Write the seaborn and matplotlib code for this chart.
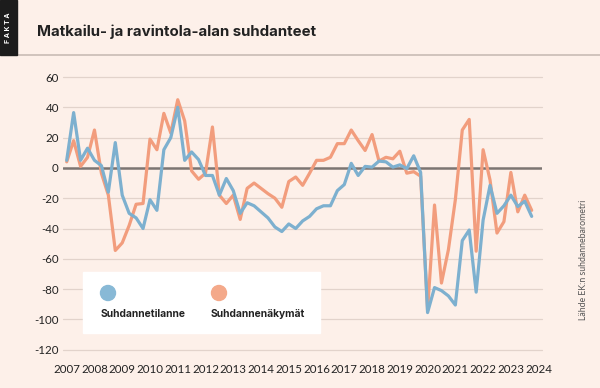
import matplotlib
matplotlib.use("Agg")
import matplotlib.pyplot as plt
import matplotlib.patches as mpatches
import numpy as np
import pandas as pd
import seaborn as sns

# ---- data (quarterly, 2007 Q1 .. 2023 Q4) ----
start_year = 2007
suhdannetilanne = [
    5, 36.5, 5, 13, 5, 1.5, -16, 16.7,
    -18, -30, -33, -40, -21, -28, 12, 20,
    40, 5, 10.5, 5.5, -5, -5, -18, -7,
    -15, -30, -23, -25, -29, -33, -39, -42,
    -37, -40, -35, -32, -27, -25, -25, -15,
    -11, 3, -5, 1, 0.5, 4.5, 4, 0.5,
    2, -0.5, 8, -3, -95.5, -79, -81, -84.5,
    -90.5, -48, -41, -82, -34.5, -11.5, -30, -25,
    -18, -25.5, -22, -32,
]
suhdannenakymat = [
    4, 18, 1, 7, 25, -3.5, -18, -54.5,
    -49.5, -38, -24, -23.5, 19, 12, 36, 23,
    45, 31, -2, -7.5, -3.5, 27, -18, -23.5,
    -18, -34, -13.5, -10, -13.5, -17, -20, -26,
    -9, -6, -11.5, -3.5, 5, 5, 7, 16,
    16, 25, 18, 11.5, 22, 4.5, 7, 6,
    11, -3.5, -2.5, -5.5, -94, -24.5, -76, -54,
    -21, 25, 32, -55, 12, -8, -43, -35.5,
    -3, -29, -18, -28,
]
series_names = ["Suhdannetilanne", "Suhdannenäkymät"]
year_ticks = list(range(2007, 2025))
y_ticks = [60, 40, 20, 0, -20, -40, -60, -80, -100, -120]
title = "Matkailu- ja ravintola-alan suhdanteet"
source = "Lähde EK:n suhdannebarometri"

# ---- styling ----
BG = "#FDF0E9"
BLUE = "#7DB0CF"
ORANGE = "#F29D7D"
GRID = "#E2D3CB"
TEXT = "#222222"

sns.set_theme(style="white")
plt.rcParams["font.family"] = ["Lato", "DejaVu Sans"]

W, H = 600, 388
fig = plt.figure(figsize=(W / 100, H / 100), dpi=100, facecolor=BG)

def fx(px):
    return px / W

def fy(py):
    return 1 - py / H

# data frame
n = len(suhdannetilanne)
x = [start_year + i / 4 for i in range(n)]
df = pd.DataFrame({
    "x": x * 2,
    "value": suhdannetilanne + suhdannenakymat,
    "series": [series_names[0]] * n + [series_names[1]] * n,
})

# axes placement
ax_left, ax_right = 63, 542
ax_top, ax_bottom = 77, 349.7
ax = fig.add_axes([fx(ax_left), fy(ax_bottom), (ax_right - ax_left) / W, (ax_bottom - ax_top) / H])
ax.set_facecolor(BG)

px_per_year = 27.76
x0_px = 66.7
ax.set_xlim(2007 - (x0_px - ax_left) / px_per_year, 2007 + (ax_right - x0_px) / px_per_year)
ax.set_ylim(-120, 60)

for v in y_ticks:
    if v != 0:
        ax.axhline(v, color=GRID, lw=0.9, zorder=0, clip_on=False)

ax.axhline(0, color="#7C7572", lw=1.8, zorder=1)

sns.lineplot(data=df, x="x", y="value", hue="series",
             palette={series_names[0]: BLUE, series_names[1]: ORANGE},
             hue_order=[series_names[1], series_names[0]],
             linewidth=2.3, ax=ax, legend=False, zorder=3)

for s in ax.spines.values():
    s.set_visible(False)
ax.set_xlabel("")
ax.set_ylabel("")
ax.set_yticks(y_ticks)
ax.set_yticklabels([str(v) for v in y_ticks])
ax.set_xticks(year_ticks)
ax.set_xticklabels([str(v) for v in year_ticks])
ax.tick_params(axis="both", length=0, labelsize=8.3, colors=TEXT)
ax.tick_params(axis="y", pad=3)
ax.tick_params(axis="x", pad=10)

# ---- header ----
fig.add_artist(mpatches.Rectangle((0, fy(55)), fx(17), 1 - fy(55),
                                  transform=fig.transFigure, color="#1C1C1C", zorder=5))
fig.text(fx(8.5), fy(27.5), "F A K T A", rotation=90, color="white", fontsize=5.0,
         fontweight="bold", ha="center", va="center", zorder=7,
         family=["Inter", "DejaVu Sans"])
fig.add_artist(plt.Line2D([fx(17), 1], [fy(55), fy(55)], transform=fig.transFigure,
                          color="#C9BCB5", lw=1.2))
fig.text(fx(37), fy(32), title, fontsize=10.8, fontweight="bold", color=TEXT,
         ha="left", va="center", family=["Inter", "DejaVu Sans"])

# ---- legend box ----
fig.add_artist(mpatches.Rectangle((fx(83), fy(333)), fx(320) - fx(83), fy(272) - fy(333),
                                  transform=fig.transFigure, color="white", zorder=4))
for cx, col, lbl, tx in [(108, "#88B9D6", series_names[0], 101),
                         (219, "#F4A98A", series_names[1], 211)]:
    fig.add_artist(mpatches.Ellipse((fx(cx), fy(293)), 15 / W, 15 / H,
                                    transform=fig.transFigure, color=col, zorder=5))
    fig.text(fx(tx), fy(314), lbl, fontsize=7.4, fontweight="bold", color=TEXT,
             ha="left", va="center", zorder=6, family=["Inter", "DejaVu Sans"])

# ---- source ----
fig.text(fx(583), fy(260), source, rotation=90, fontsize=6.3, color="#555555",
         ha="center", va="center")

fig.savefig("out.png", dpi=100, facecolor=BG)
